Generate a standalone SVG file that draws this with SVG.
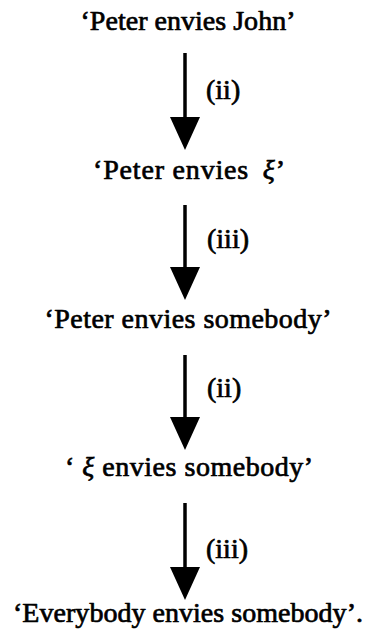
<svg xmlns="http://www.w3.org/2000/svg" width="374" height="636" viewBox="0 0 374 636">
<style>
.t{font-family:"Liberation Serif","Times New Roman",serif;font-size:28px;fill:#000;text-anchor:middle;stroke:#000;stroke-width:0.7;stroke-linejoin:round}
.l{font-family:"Liberation Serif","Times New Roman",serif;font-size:28px;fill:#000;stroke:#000;stroke-width:0.7;stroke-linejoin:round}
.x{font-style:italic}
.c{stroke:#000;stroke-width:3.5;fill:none;marker-end:url(#ah)}
</style>
<defs>
<marker id="ah" markerUnits="userSpaceOnUse" markerWidth="34" markerHeight="30" viewBox="0 0 34 30" refX="5" refY="15" orient="auto">
<path d="M0,0 L33,15 L0,30 z" fill="#000"/>
</marker>
</defs>
<g id="n1"><text class="t" x="188" y="30" textLength="215">‘Peter envies John’</text></g>
<g id="n2"><text class="t" x="189" y="179" textLength="192">‘Peter envies <tspan class="x" dx="6">ξ</tspan>’</text></g>
<g id="n3"><text class="t" x="188" y="328" textLength="287">‘Peter envies somebody’</text></g>
<g id="n4"><text class="t" x="189" y="476" textLength="248">‘ <tspan class="x">ξ</tspan> envies somebody’</text></g>
<g id="n5"><text class="t" x="188" y="622" textLength="350">‘Everybody envies somebody’.</text></g>
<g id="connectors">
<line class="c" x1="185" y1="53" x2="185" y2="122"/>
<line class="c" x1="185" y1="205" x2="185" y2="272"/>
<line class="c" x1="185" y1="355" x2="185" y2="422"/>
<line class="c" x1="185" y1="503" x2="185" y2="572"/>
<text class="l" x="206" y="99">(ii)</text>
<text class="l" x="207" y="248">(iii)</text>
<text class="l" x="207" y="397">(ii)</text>
<text class="l" x="206" y="558">(iii)</text>
</g>
</svg>
